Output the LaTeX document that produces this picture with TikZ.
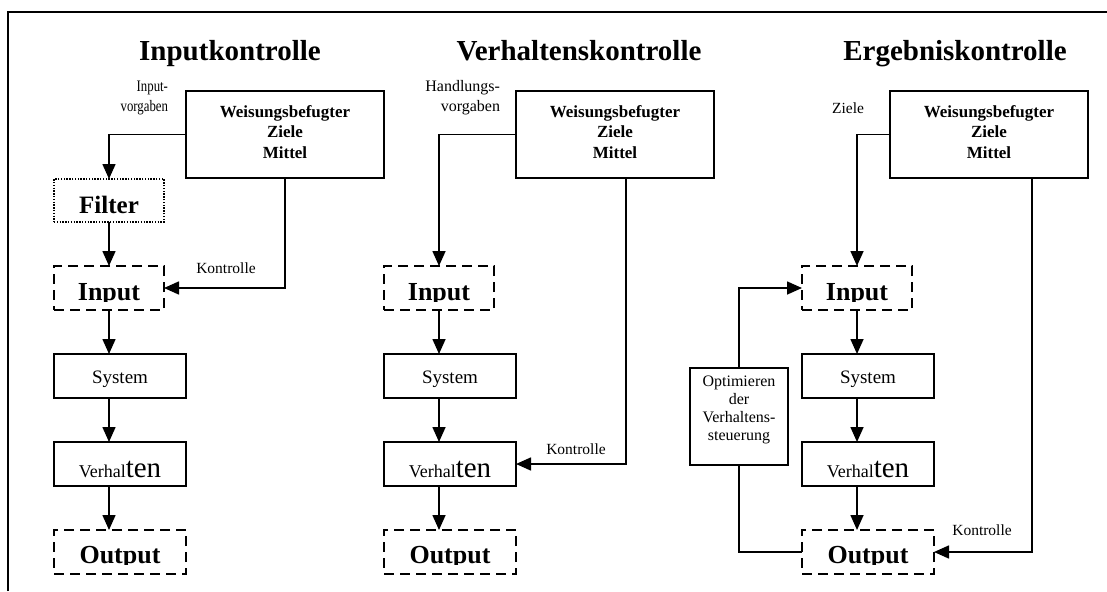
\documentclass[tikz,border=0pt]{standalone}
\usepackage{fontspec}
\setmainfont{Liberation Serif}
\usetikzlibrary{arrows.meta}
\begin{document}
\begin{tikzpicture}[x=1pt,y=-1pt,
  line width=1.6pt,
  every node/.style={inner sep=0pt, outer sep=0pt},
  boss/.style={draw, minimum width=198pt, minimum height=87pt},
  plainbox/.style={draw, minimum width=132pt, minimum height=44pt},
  dashbox/.style={draw, dash pattern=on 10pt off 6pt, minimum height=44pt},
  dotbox/.style={draw, dash pattern=on 1.4pt off 1.4pt, minimum width=110pt, minimum height=43pt},
  optbox/.style={draw, minimum width=98pt, minimum height=97pt},
  arr/.style={-{Triangle[length=15pt,width=13pt]}},
  line/.style={-},
  title/.style={font=\fontsize{29}{34}\selectfont\bfseries, anchor=base},
  bosstext/.style={font=\fontsize{17}{20.5}\selectfont\bfseries, align=center},
  narrowtext/.style={font=\fontsize{16}{20}\selectfont},
  labeltext/.style={font=\fontsize{15.5}{20}\selectfont},
  bigtext/.style={font=\fontsize{26}{30}\selectfont\bfseries, anchor=base},
  systext/.style={font=\fontsize{19}{22}\selectfont, text height=14pt, text depth=0pt},
  vtext/.style={text height=26pt, text depth=0pt},
  opttext/.style={font=\fontsize{16}{18}\selectfont, align=center}
]
\useasboundingbox (0,0) rectangle (1107,591);

% frame
\draw[line width=1.7pt] (8,591) -- (8,12) -- (1107,12);

\newcommand{\verhaltentext}{{\fontsize{18}{20}\selectfont Verhal}{\fontsize{29}{30}\selectfont ten}}

% ---------------- Inputkontrolle ----------------
\node[title] (T1) at (230,61) {Inputkontrolle};
\node[boss] (W1) at (285,134.5) {};
\node[bosstext] (W1t) at (285,132) {Weisungsbefugter\\Ziele\\Mittel};
\node[narrowtext, align=right, anchor=east] (L1) at (168,98) {\scalebox{0.8}[1]{Input-}\\\scalebox{0.8}[1]{vorgaben}};
\node[dotbox, font=\fontsize{25}{30}\selectfont\bfseries, text height=25pt, text depth=0pt] (F1) at (109,200.5) {Filter};
\node[dashbox, minimum width=110pt] (I1) at (109,288) {};
\begin{scope}
  \clip (I1.north west) rectangle ([yshift=9pt]I1.south east);
  \node[bigtext] (I1t) at (109,300) {Input};
\end{scope}
\node[plainbox, systext] (S1) at (120,376) {System};
\node[plainbox, vtext] (V1) at (120,464) {\verhaltentext};
\node[dashbox, minimum width=132pt] (O1) at (120,552) {};
\begin{scope}
  \clip (O1.north west) rectangle ([yshift=10pt]O1.south east);
  \node[bigtext] (O1t) at (120,563) {Output};
\end{scope}
\node[labeltext] (K1) at (226,268) {Kontrolle};

\draw[arr] (W1.west) -| (F1.north);
\draw[arr] (F1.south) -- (I1.north);
\draw[arr] (I1.south) -- (I1.south |- S1.north);
\draw[arr] (I1.south |- S1.south) -- (I1.south |- V1.north);
\draw[arr] (I1.south |- V1.south) -- (I1.south |- O1.north);
\draw[arr] (W1.south) |- (I1.east);

% ---------------- Verhaltenskontrolle ----------------
\node[title] (T2) at (579,61) {Verhaltenskontrolle};
\node[boss] (W2) at (615,134.5) {};
\node[bosstext] (W2t) at (615,132) {Weisungsbefugter\\Ziele\\Mittel};
\node[narrowtext, align=right, anchor=east] (L2) at (500,98) {Handlungs-\\vorgaben};
\node[dashbox, minimum width=110pt] (I2) at (439,288) {};
\begin{scope}
  \clip (I2.north west) rectangle ([yshift=9pt]I2.south east);
  \node[bigtext] (I2t) at (439,300) {Input};
\end{scope}
\node[plainbox, systext] (S2) at (450,376) {System};
\node[plainbox, vtext] (V2) at (450,464) {\verhaltentext};
\node[dashbox, minimum width=132pt] (O2) at (450,552) {};
\begin{scope}
  \clip (O2.north west) rectangle ([yshift=10pt]O2.south east);
  \node[bigtext] (O2t) at (450,563) {Output};
\end{scope}
\node[labeltext] (K2) at (576,449) {Kontrolle};
\coordinate (k2) at (626,178);

\draw[arr] (W2.west) -| (I2.north);
\draw[arr] (I2.south) -- (I2.south |- S2.north);
\draw[arr] (I2.south |- S2.south) -- (I2.south |- V2.north);
\draw[arr] (I2.south |- V2.south) -- (I2.south |- O2.north);
\draw[arr] (k2) |- (V2.east);

% ---------------- Ergebniskontrolle ----------------
\node[title] (T3) at (955,61) {Ergebniskontrolle};
\node[boss] (W3) at (989,134.5) {};
\node[bosstext] (W3t) at (989,132) {Weisungsbefugter\\Ziele\\Mittel};
\node[labeltext] (L3) at (848,108) {Ziele};
\node[dashbox, minimum width=110pt] (I3) at (857,288) {};
\begin{scope}
  \clip (I3.north west) rectangle ([yshift=9pt]I3.south east);
  \node[bigtext] (I3t) at (857,300) {Input};
\end{scope}
\node[plainbox, systext] (S3) at (868,376) {System};
\node[plainbox, vtext] (V3) at (868,464) {\verhaltentext};
\node[dashbox, minimum width=132pt] (O3) at (868,552) {};
\begin{scope}
  \clip (O3.north west) rectangle ([yshift=10pt]O3.south east);
  \node[bigtext] (O3t) at (868,563) {Output};
\end{scope}
\node[optbox] (P3) at (739,416.5) {};
\node[opttext] (P3t) at (739,409.5) {Optimieren\\der\\Verhaltens-\\steuerung};
\node[labeltext] (K3) at (982,530) {Kontrolle};
\coordinate (k3) at (1032,178);

\draw[arr] (W3.west) -| (I3.north);
\draw[arr] (I3.south) -- (I3.south |- S3.north);
\draw[arr] (I3.south |- S3.south) -- (I3.south |- V3.north);
\draw[arr] (I3.south |- V3.south) -- (I3.south |- O3.north);
\draw[arr] (k3) |- (O3.east);
\draw[line] (O3.west) -| (P3.south);
\draw[arr] (P3.north) |- (I3.west);
\end{tikzpicture}
\end{document}
